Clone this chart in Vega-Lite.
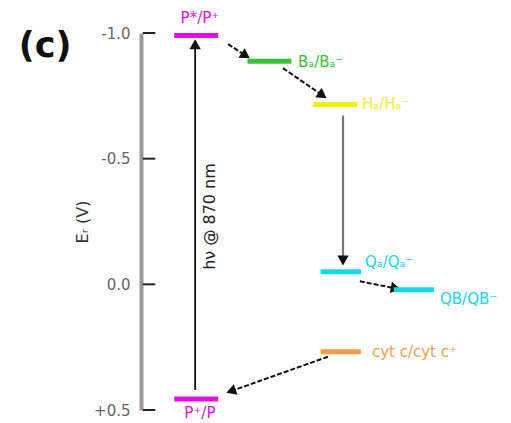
{
  "$schema": "https://vega.github.io/schema/vega-lite/v6.json",
  "width": 366,
  "height": 377,
  "autosize": "none",
  "padding": {"left": 145, "top": 33, "right": 0, "bottom": 13},
  "background": "white",
  "config": {"view": {"stroke": null}, "font": "DejaVu Sans"},
  "datasets": {
    "levels": [
      {"name": "P*/P+", "x": 8, "x2": 20, "E": -0.99},
      {"name": "BA", "x": 28, "x2": 40, "E": -0.888},
      {"name": "HA", "x": 46, "x2": 58, "E": -0.716},
      {"name": "QA", "x": 48, "x2": 59, "E": -0.05},
      {"name": "QB", "x": 68, "x2": 79, "E": 0.022},
      {"name": "cyt", "x": 48, "x2": 59, "E": 0.268},
      {"name": "P+/P", "x": 8, "x2": 20, "E": 0.456}
    ],
    "labels": [
      {"name": "P*/P+", "text": "P*/P⁺", "lx": 15, "ly": -1.06, "align": "center"},
      {"name": "BA", "text": "Bₐ/Bₐ⁻", "lx": 41.8, "ly": -0.884, "align": "left"},
      {"name": "HA", "text": "Hₐ/Hₐ⁻", "lx": 59.3, "ly": -0.716, "align": "left"},
      {"name": "QA", "text": "Qₐ/Qₐ⁻", "lx": 60.1, "ly": -0.09, "align": "left"},
      {"name": "QB", "text": "QB/QB⁻", "lx": 80.6, "ly": 0.06, "align": "left"},
      {"name": "cyt", "text": "cyt c/cyt c⁺", "lx": 62, "ly": 0.268, "align": "left"},
      {"name": "P+/P", "text": "P⁺/P", "lx": 15, "ly": 0.51, "align": "center"}
    ],
    "arrows": [
      {"id": "exc", "kind": "solid", "x": 13.7, "y": 0.42, "x2": 13.7, "y2": -0.955},
      {"id": "p_b", "kind": "dash", "x": 22.7, "y": -0.956, "x2": 27.5, "y2": -0.91},
      {"id": "b_h", "kind": "dash", "x": 37.7, "y": -0.86, "x2": 48.5, "y2": -0.752},
      {"id": "h_q", "kind": "gray", "x": 54.1, "y": -0.672, "x2": 54.1, "y2": -0.095},
      {"id": "qa_qb", "kind": "dash", "x": 58.7, "y": -0.012, "x2": 68.5, "y2": 0.016},
      {"id": "cyt_p", "kind": "dash", "x": 50, "y": 0.288, "x2": 23.5, "y2": 0.425}
    ],
    "tickrows": [
      {"x": -0.6, "x2": 2.8, "E": -1.0},
      {"x": -0.6, "x2": 2.8, "E": -0.5},
      {"x": -0.6, "x2": 2.8, "E": 0.0},
      {"x": -0.6, "x2": 2.8, "E": 0.5}
    ],
    "notes": [
      {"text": "hν @ 870 nm", "lx": 17.8, "ly": -0.27}
    ],
    "panel": [
      {"text": "(c)", "lx": -27.3, "ly": -0.95}
    ]
  },
  "resolve": {"scale": {"color": "independent", "strokeDash": "independent", "strokeWidth": "independent"}},
  "layer": [
    {
      "data": {"name": "arrows"},
      "mark": {"type": "rule"},
      "encoding": {
        "x": {"field": "x", "type": "quantitative", "scale": {"domain": [0, 100]}, "axis": null},
        "x2": {"field": "x2"},
        "y": {"field": "y", "type": "quantitative", "scale": {"domain": [-1.0, 0.5], "reverse": true, "nice": false, "zero": false},
          "axis": {
            "values": [-1.0, -0.5, 0.0, 0.5],
            "labelExpr": "datum.value > 0 ? '+' + format(datum.value, '.1f') : replace(format(datum.value, '.1f'), '−', '-')",
            "offset": 4,
            "title": "Eᵣ (V)",
            "titleFontSize": 16,
            "titleFontWeight": "normal",
            "titleColor": "#333",
            "titlePadding": 3,
            "labelFontSize": 15,
            "labelColor": "#666",
            "labelPadding": 11,
            "domainColor": "#9a9a9a",
            "domainWidth": 4,
            "ticks": false,
            "grid": false
          }
        },
        "y2": {"field": "y2"},
        "color": {"field": "kind", "type": "nominal", "scale": {"domain": ["solid", "dash", "gray"], "range": ["#111111", "#111111", "#777777"]}, "legend": null},
        "strokeDash": {"field": "kind", "type": "nominal", "scale": {"domain": ["solid", "dash", "gray"], "range": [[1, 0], [5, 2], [1, 0]]}, "legend": null},
        "strokeWidth": {"field": "kind", "type": "nominal", "scale": {"domain": ["solid", "dash", "gray"], "range": [1.8, 2.2, 3]}, "legend": null}
      }
    },
    {
      "data": {"name": "tickrows"},
      "mark": {"type": "rule", "strokeWidth": 2, "color": "#222222", "clip": false},
      "encoding": {
        "x": {"field": "x", "type": "quantitative"},
        "x2": {"field": "x2"},
        "y": {"field": "E", "type": "quantitative"}
      }
    },
    {
      "data": {"name": "arrows"},
      "transform": [
        {"calculate": "atan2((datum.x2 - datum.x) * 3.66, -(datum.y2 - datum.y) * 251.3) * 180 / PI", "as": "ang"}
      ],
      "mark": {"type": "point", "shape": "triangle-up", "filled": true, "color": "#111", "opacity": 1},
      "encoding": {
        "x": {"field": "x2", "type": "quantitative"},
        "y": {"field": "y2", "type": "quantitative"},
        "angle": {"field": "ang", "type": "quantitative", "scale": null},
        "size": {"value": 130}
      }
    },
    {
      "data": {"name": "levels"},
      "mark": {"type": "rule", "strokeWidth": 5},
      "encoding": {
        "x": {"field": "x", "type": "quantitative"},
        "x2": {"field": "x2"},
        "y": {"field": "E", "type": "quantitative"},
        "color": {"field": "name", "type": "nominal",
          "scale": {"domain": ["P*/P+", "BA", "HA", "QA", "QB", "cyt", "P+/P"], "range": ["#e010e0", "#33c533", "#f2f200", "#10d8e8", "#10d8e8", "#f0a040", "#e010e0"]},
          "legend": null}
      }
    },
    {
      "data": {"name": "labels"},
      "transform": [{"filter": "datum.align == 'left'"}],
      "mark": {"type": "text", "fontSize": 15, "baseline": "middle", "align": "left"},
      "encoding": {
        "x": {"field": "lx", "type": "quantitative"},
        "y": {"field": "ly", "type": "quantitative"},
        "text": {"field": "text"},
        "color": {"field": "name", "type": "nominal",
          "scale": {"domain": ["P*/P+", "BA", "HA", "QA", "QB", "cyt", "P+/P"], "range": ["#e010e0", "#33c533", "#eeee30", "#10d8e8", "#10d8e8", "#f0a040", "#e010e0"]},
          "legend": null}
      }
    },
    {
      "data": {"name": "labels"},
      "transform": [{"filter": "datum.align == 'center'"}],
      "mark": {"type": "text", "fontSize": 15, "baseline": "middle", "align": "center", "color": "#e010e0"},
      "encoding": {
        "x": {"field": "lx", "type": "quantitative"},
        "y": {"field": "ly", "type": "quantitative"},
        "text": {"field": "text"}
      }
    },
    {
      "data": {"name": "notes"},
      "mark": {"type": "text", "fontSize": 16, "angle": 270, "color": "#222", "align": "center", "baseline": "middle"},
      "encoding": {
        "x": {"field": "lx", "type": "quantitative"},
        "y": {"field": "ly", "type": "quantitative"},
        "text": {"field": "text"}
      }
    },
    {
      "data": {"name": "panel"},
      "mark": {"type": "text", "fontSize": 35, "fontWeight": "bold", "color": "#111", "align": "center", "baseline": "middle"},
      "encoding": {
        "x": {"field": "lx", "type": "quantitative"},
        "y": {"field": "ly", "type": "quantitative"},
        "text": {"field": "text"}
      }
    }
  ]
}
